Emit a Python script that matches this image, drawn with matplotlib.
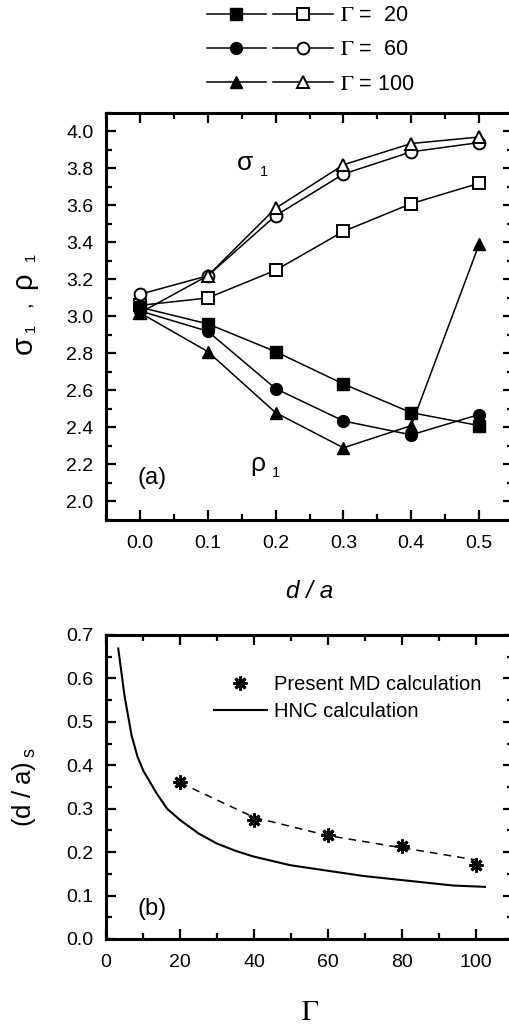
#plot sigma_1 / rho_1 against d/a and the critical (d/a)_s against Gamma
import numpy as np
import matplotlib.pyplot as plt
from matplotlib.legend_handler import HandlerTuple
from matplotlib.ticker import MultipleLocator

plt.rcParams['font.family'] = ['Liberation Sans', 'DejaVu Sans']
plt.rcParams['mathtext.fontset'] = 'stix'

# panel (a) data
d_over_a = [0.0, 0.1, 0.2, 0.3, 0.4, 0.5]
gammas = [20, 60, 100]
gamma_labels = [r'$\Gamma$ =  20', r'$\Gamma$ =  60', r'$\Gamma$ = 100']
# sigma_1 (open symbols)
sigma_g20 = [3.06, 3.10, 3.25, 3.46, 3.61, 3.72]
sigma_g60 = [3.12, 3.22, 3.545, 3.77, 3.89, 3.94]
sigma_g100 = [3.02, 3.22, 3.585, 3.82, 3.935, 3.97]
# rho_1 (filled symbols)
rho_g20 = [3.05, 2.96, 2.81, 2.635, 2.48, 2.41]
rho_g60 = [3.03, 2.92, 2.61, 2.435, 2.36, 2.47]
rho_g100 = [3.02, 2.81, 2.48, 2.29, 2.41, 3.39]

# panel (b) data
md_gamma = [20, 40, 60, 80, 100]
md_ds = [0.362, 0.275, 0.240, 0.215, 0.171]
fit_gamma = [20, 40, 60, 80, 100]
fit_ds = [0.36, 0.28, 0.238, 0.21, 0.182]
hnc_gamma = [3.3, 5.0, 6.9, 8.5, 10.1, 13.7, 16.5, 20, 25, 29.9, 35, 39.8, 49.7, 60, 69.6, 79.5, 93.9, 102.4]
hnc_ds = [0.669, 0.56, 0.469, 0.42, 0.387, 0.335, 0.30, 0.274, 0.243, 0.220, 0.203, 0.190, 0.170, 0.157, 0.145, 0.136, 0.123, 0.120]

W, H = 509, 1029
fig = plt.figure(figsize=(W / 100, H / 100), dpi=100)
ax1 = fig.add_axes([0.2083, 0.4947, 0.7996, 0.3955])
ax2 = fig.add_axes([0.2083, 0.0875, 0.7996, 0.2954])

def vtext(x_px, y_px, s, size):
    # rotated piece of text, x_px = baseline, y_px = start of the text (pixels from top left)
    fig.text(x_px / W, 1 - y_px / H, s, fontsize=size, rotation=90,
             rotation_mode='anchor', ha='left', va='baseline')

ms = 8.5
lw = 1.1
filled = []
opened = []
for sig, rho, mk in [(sigma_g20, rho_g20, 's'), (sigma_g60, rho_g60, 'o'), (sigma_g100, rho_g100, '^')]:
    l_open, = ax1.plot(d_over_a, sig, color='black', lw=lw, marker=mk, ms=ms,
                       mfc='white', mec='black', mew=1.4)
    l_fill, = ax1.plot(d_over_a, rho, color='black', lw=lw, marker=mk, ms=ms,
                       mfc='black', mec='black')
    filled.append(l_fill)
    opened.append(l_open)

ax1.set_xlim(-0.05, 0.55)
ax1.set_ylim(1.9, 4.1)
ax1.xaxis.set_minor_locator(MultipleLocator(0.05))
ax1.yaxis.set_minor_locator(MultipleLocator(0.1))
ax1.set_xticks(d_over_a)
ax1.set_xticklabels(['%.1f' % v for v in d_over_a])
ax1.set_yticks(np.arange(2.0, 4.01, 0.2))
ax1.set_yticklabels(['%.1f' % v for v in np.arange(2.0, 4.01, 0.2)])
ax1.set_xlabel('d / a', fontsize=17.5, fontstyle='italic', labelpad=20)

# y label of panel (a) built from pieces so the subscripts stay small
vtext(32, 353.5, 'σ', 21)
vtext(35, 331.5, '1', 10.5)
vtext(30, 307, ',', 15)
vtext(31, 289, 'ρ', 21)
vtext(35, 261.5, '1', 10.5)

ax1.text(0.155, 3.83, 'σ', fontsize=19, ha='center', va='center')
ax1.text(0.183, 3.78, '1', fontsize=10.5, ha='center', va='center')
ax1.text(0.174, 2.2, 'ρ', fontsize=19, ha='center', va='center')
ax1.text(0.2, 2.155, '1', fontsize=10.5, ha='center', va='center')
ax1.text(0.018, 2.125, '(a)', fontsize=17, ha='center', va='center')

# legend at the top of the figure
handles = [(f, o) for f, o in zip(filled, opened)]
fig.legend(handles, gamma_labels, loc='center', bbox_to_anchor=(0.61, 0.9515),
           frameon=False, handler_map={tuple: HandlerTuple(ndivide=None, pad=0.33)},
           handlelength=5.86, handletextpad=0.33, labelspacing=0.61, fontsize=15.5)

# panel (b)
ax2.plot(fit_gamma, fit_ds, color='black', lw=1.1, ls=(0, (5, 4)))
ax2.plot(md_gamma, md_ds, ls='none', marker=(8, 2, 0), ms=10, mew=2, color='black',
         label='Present MD calculation')
ax2.plot(hnc_gamma, hnc_ds, color='black', lw=1.5, label='HNC calculation')
ax2.set_xlim(0, 110)
ax2.set_ylim(0, 0.7)
ax2.set_xticks([0, 20, 40, 60, 80, 100])
ax2.xaxis.set_minor_locator(MultipleLocator(10))
ax2.set_yticks(np.arange(0, 0.71, 0.1))
ax2.set_yticklabels(['%.1f' % v for v in np.arange(0, 0.71, 0.1)])
ax2.yaxis.set_minor_locator(MultipleLocator(0.05))
ax2.set_xlabel(r'$\Gamma$', fontsize=20, labelpad=21)
ax2.set_ylabel(r'$\mathregular{(d\ /\ a)_{\ s}}$', fontsize=18.5, labelpad=20)
ax2.text(12.4, 0.069, '(b)', fontsize=17, ha='center', va='center')
ax2.legend(loc='upper left', bbox_to_anchor=(0.22, 0.929), frameon=False, fontsize=14.5,
           handlelength=2.65, handletextpad=0.35, labelspacing=0.4)

for ax in [ax1, ax2]:
    for sp in ax.spines.values():
        sp.set_linewidth(2.2)
    ax.tick_params(which='both', direction='in', top=True, right=True, width=1.6)
    ax.tick_params(which='major', length=7.5, labelsize=14)
    ax.tick_params(which='minor', length=4)
    ax.tick_params(axis='x', which='major', pad=11)
    ax.tick_params(axis='y', which='major', pad=9)

plt.savefig('out.png', dpi=100)
